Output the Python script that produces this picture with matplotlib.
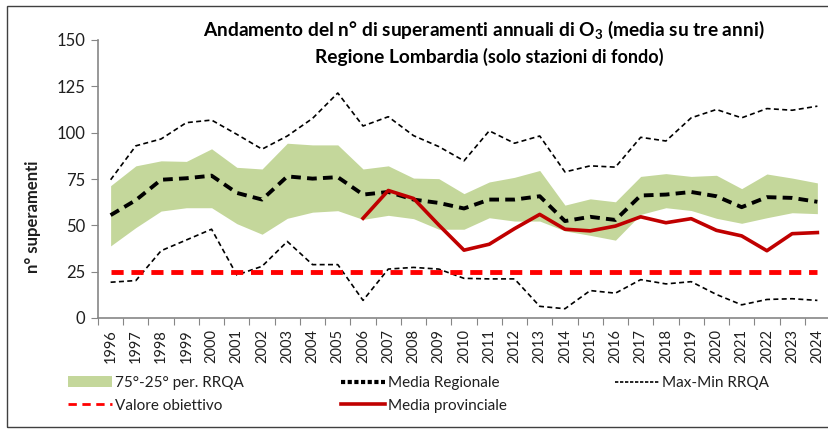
import matplotlib
matplotlib.use("Agg")
import matplotlib.pyplot as plt
from matplotlib.patches import Patch, Rectangle
from matplotlib.lines import Line2D

plt.rcParams['font.family'] = ['Lato', 'DejaVu Sans']
plt.rcParams['mathtext.fontset'] = 'custom'
plt.rcParams['mathtext.bf'] = 'Lato:bold'
plt.rcParams['mathtext.rm'] = 'Lato'

years = list(range(1996, 2025))

p75 = [71.4, 82.1, 84.8, 84.5, 91.3, 81.3, 80.4, 94.3, 93.4, 93.4,
       80.4, 82.1, 75.5, 75.2, 67.1, 73.4, 75.9, 79.6, 60.9, 64.3,
       62.7, 76.4, 77.9, 76.4, 77.0, 69.8, 77.7, 75.5, 72.9]
p25 = [38.9, 48.8, 57.7, 59.5, 59.5, 50.9, 45.2, 53.8, 57.1, 57.9,
       53.2, 55.4, 53.6, 47.9, 47.9, 54.1, 52.3, 52.3, 47.0, 44.6,
       42.0, 55.9, 59.5, 58.0, 53.8, 51.1, 54.1, 56.8, 56.3]
media_reg = [55.5, 63.6, 74.6, 75.4, 76.8, 67.5, 63.9, 76.4, 75.2, 76.0,
             66.6, 68.0, 63.9, 62.1, 59.1, 63.9, 63.9, 65.7, 52.3, 54.6,
             52.9, 66.1, 66.6, 68.0, 65.7, 59.8, 65.2, 64.8, 62.7]
max_rrqa = [74.6, 92.9, 96.6, 105.4, 106.8, 99.1, 91.1, 98.2, 107.7, 121.4,
            103.6, 108.6, 98.4, 92.5, 84.8, 101.0, 94.3, 98.2, 78.8, 82.1,
            81.4, 97.5, 95.5, 108.0, 112.5, 108.0, 113.0, 112.1, 114.3]
min_rrqa = [19.3, 20.2, 36.3, 42.1, 47.9, 23.2, 27.9, 41.3, 28.8, 28.8,
            9.5, 26.4, 27.3, 26.4, 21.4, 21.1, 21.1, 6.3, 5.0, 14.8,
            13.4, 20.7, 18.4, 19.6, 12.7, 7.1, 10.0, 10.4, 9.5]
# media provinciale: dal 2006
prov_years = list(range(2006, 2025))
media_prov = [53.8, 68.8, 64.5, 50.2, 36.6, 39.8, 48.2, 55.9, 47.9, 47.0,
              49.6, 54.6, 51.4, 53.6, 47.3, 44.3, 36.3, 45.5, 46.1]
valore_obiettivo = 25

x = list(range(len(years)))
xp = [years.index(y) for y in prov_years]

W, H = 829, 430
fig = plt.figure(figsize=(W / 100, H / 100), dpi=100)
ax = fig.add_axes([98 / W, 1 - 318 / H, 732 / W, 278 / H])

band_col = '#c4d79b'
txt_col = '#1f1f1f'
ax.fill_between(x, p25, p75, color=band_col, lw=0)
ax.plot(x, max_rrqa, color='black', lw=1.2, ls=(0, (3, 2)))
ax.plot(x, min_rrqa, color='black', lw=1.2, ls=(0, (3, 2)))
ax.plot(x, media_reg, color='black', lw=2.8, ls=(0, (2.5, 1.6)))
ax.plot(x, [valore_obiettivo] * len(x), color='#ff0000', lw=3.5, ls=(0, (2.5, 1.6)))
ax.plot(xp, media_prov, color='#c00000', lw=2.6)

ax.set_xlim(-0.5, len(years) - 0.5)
ax.set_ylim(0, 150)
ax.set_yticks([0, 25, 50, 75, 100, 125, 150])
ax.tick_params(axis='y', labelsize=12, length=5, color='#868686', labelcolor=txt_col, pad=4)

ax.set_xticks([i - 0.5 for i in range(len(years) + 1)])
ax.set_xticklabels([])
ax.set_xticks(x, minor=True)
ax.set_xticklabels([str(y) for y in years], minor=True, rotation=90)
ax.tick_params(axis='x', which='major', length=5, color='#868686', direction='out')
ax.tick_params(axis='x', which='minor', length=0, labelsize=10.5, labelcolor=txt_col, pad=8)

for s in ['top', 'right']:
    ax.spines[s].set_visible(False)
for s in ['left', 'bottom']:
    ax.spines[s].set_color('#868686')
    ax.spines[s].set_linewidth(1.2)

fig.text(33 / W, 1 - 217 / H, 'n° superamenti', rotation=90, ha='center', va='center',
         fontsize=12, fontweight='bold', color=txt_col)

fig.text(484 / W, 1 - 30 / H, r'Andamento del n° di superamenti annuali di $\mathbf{O_3}$ (media su tre anni)',
         ha='center', va='center', fontsize=13.8, fontweight='bold', color='black')
fig.text(479 / W, 1 - 57 / H, 'Regione Lombardia', ha='right', va='center',
         fontsize=13.8, fontweight='bold', color='black')
fig.text(483 / W, 1 - 57 / H, '(solo stazioni di fondo)', ha='left', va='center',
         fontsize=13, fontweight='bold', color='black')

leg_kw = dict(loc='upper left', frameon=False, fontsize=11, handlelength=2.9,
              handletextpad=0.2, labelspacing=0.57, borderaxespad=0, borderpad=0,
              labelcolor=txt_col)

h1 = [Patch(facecolor=band_col, edgecolor='none'),
      Line2D([], [], color='#ff0000', lw=2, ls=(0, (3, 2)))]
l1 = ['75°-25° per. RRQA', 'Valore obiettivo']
h2 = [Line2D([], [], color='black', lw=3, ls=(0, (1, 0.6))),
      Line2D([], [], color='#c00000', lw=2.6)]
l2 = ['Media Regionale', 'Media provinciale']
h3 = [Line2D([], [], color='black', lw=1.2, ls=(0, (2, 1)))]
l3 = ['Max-Min RRQA']

top = 1 - 376 / H
fig.legend(h1, l1, bbox_to_anchor=(68 / W, top), **leg_kw)
fig.legend(h2, l2, bbox_to_anchor=(341 / W, top), **leg_kw)
fig.legend(h3, l3, bbox_to_anchor=(615 / W, top), **leg_kw)

fig.add_artist(Rectangle((7 / W, 3 / H), 830 / W, 1 - 9 / H, transform=fig.transFigure,
                         fill=False, edgecolor='#404040', lw=1))

fig.savefig('out.png', dpi=100)
